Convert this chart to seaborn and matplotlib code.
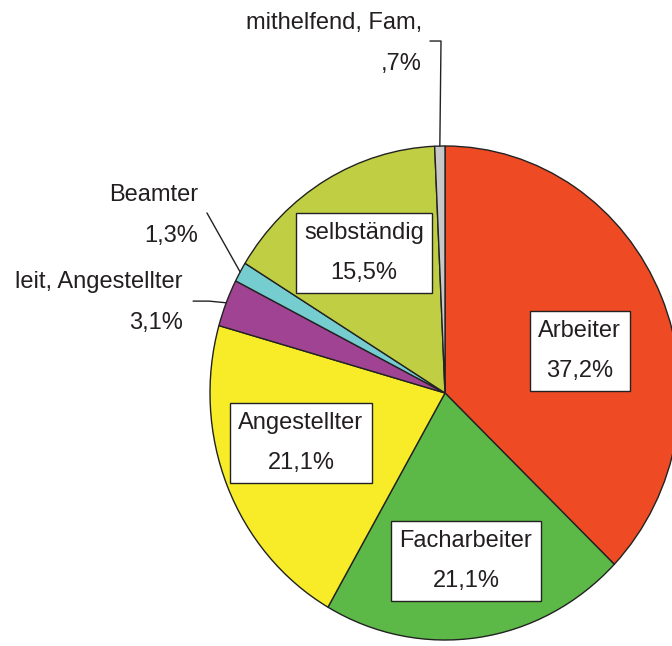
import numpy as np
import matplotlib.pyplot as plt
import seaborn as sns

labels = ["Arbeiter", "Facharbeiter", "Angestellter", "leit, Angestellter",
          "Beamter", "selbständig", "mithelfend, Fam,"]
pct_text = ["37,2%", "21,1%", "21,1%", "3,1%", "1,3%", "15,5%", ",7%"]
shares = [37.2, 21.1, 21.1, 3.1, 1.3, 15.5, 0.7]
colors = ["#EE4A23", "#5DB947", "#F7EC27", "#A04393", "#76CDD0", "#C0CE43", "#C8C8C8"]

sns.set_style("white")
plt.rcParams["font.family"] = ["Liberation Sans", "DejaVu Sans"]

fig = plt.figure(figsize=(6.72, 6.46), dpi=100)
ax = fig.add_axes([210 / 672, 6 / 646, 470 / 672, 494 / 646])

wedges, _ = ax.pie(shares, colors=colors, startangle=90, counterclock=False,
                   wedgeprops=dict(edgecolor="#222222", linewidth=1.0))
ax.set_aspect("auto")
ax.set_xlim(-1, 1)
ax.set_ylim(-1, 1)
ax.axis("off")

ink = "#231F20"
fs = 17

# boxed labels inside the big slices
inside = {0: (0.574, 0.170), 1: (0.089, -0.680), 2: (-0.613, -0.202), 5: (-0.345, 0.567)}
for i, (x, y) in inside.items():
    ax.text(x, y, f"{labels[i]}\n{pct_text[i]}", ha="center", va="center",
            fontsize=fs, color=ink, linespacing=2.1, clip_on=False,
            bbox=dict(boxstyle="square,pad=0.35", fc="white", ec="#222222", lw=1))

# outside labels with leader lines
outside = {6: (-0.098, 1.415), 4: (-1.051, 0.719), 3: (-1.115, 0.366)}
for i, (x, y) in outside.items():
    ax.text(x, y, f"{labels[i]}\n{pct_text[i]}", ha="right", va="center",
            multialignment="right", fontsize=fs, color=ink, linespacing=2.1,
            clip_on=False)

def edge_point(w, r=1.0):
    a = np.deg2rad((w.theta1 + w.theta2) / 2)
    return r * np.cos(a), r * np.sin(a)

ex, ey = edge_point(wedges[6])
ax.plot([-0.064, ex + 0.005, ex], [1.425, 1.425, ey], color="#222222", lw=1, clip_on=False)
ex, ey = edge_point(wedges[4])
ax.plot([-1.013, ex], [0.729, ey], color="#222222", lw=1, clip_on=False)
ex, ey = edge_point(wedges[3])
ax.plot([-1.072, -1.004, ex], [0.372, 0.372, ey], color="#222222", lw=1, clip_on=False)

fig.savefig("out.png", dpi=100)
